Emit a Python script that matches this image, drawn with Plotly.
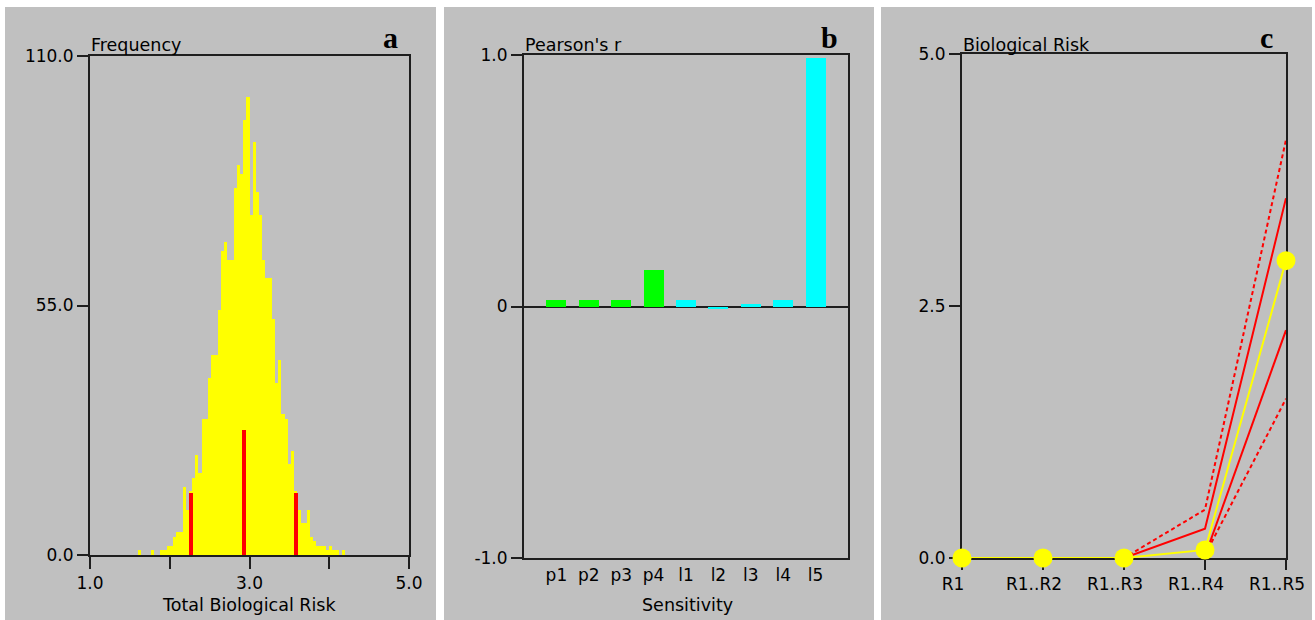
import plotly.graph_objects as go

# ---------------- data ----------------
# Panel a: histogram of Total Biological Risk
BIN_START = 1.6
BIN_WIDTH = 0.04
freq = [1, 0, 0, 0, 1, 0, 0, 1, 1, 2, 2, 4, 5, 5, 15, 10, 14, 17, 22, 18,
        30, 30, 39, 44, 44, 54, 67, 69, 65, 65, 81, 86, 84, 96, 101, 75, 91, 80, 75, 65,
        61, 61, 52, 38, 43, 31, 30, 20, 23, 14, 10, 7, 7, 10, 4, 3, 2, 2, 2, 1,
        2, 1, 1, 0, 1]
pct_x = [2.27, 2.93, 3.58]
pct_h = [13.7, 27.5, 13.7]

# Panel b: sensitivity (Pearson's r)
sens_names = ["p1", "p2", "p3", "p4", "l1", "l2", "l3", "l4", "l5"]
sens_values = [0.025, 0.025, 0.025, 0.145, 0.025, -0.01, 0.01, 0.025, 0.99]
sens_colors = ["#00FF00"] * 4 + ["#00FFFF"] * 5

# Panel c: cumulative biological risk
steps = ["R1", "R1..R2", "R1..R3", "R1..R4", "R1..R5"]
risk_mean = [0, 0, 0, 0.08, 2.95]
risk_hi_solid = [0, 0, 0, 0.29, 3.57]
risk_lo_solid = [None, None, None, 0.02, 2.26]
risk_hi_dash = [0, 0, 0, 0.48, 4.15]
risk_lo_dash = [None, None, None, 0.03, 1.58]

# ---------------- layout helpers ----------------
W, H = 1315, 620
def px(x):
    return x / W
def py(y):
    return 1 - y / H

GRAY = "#C0C0C0"
FRAME = "#1E1E1E"
FONT = "DejaVu Sans"
FS = 17

bin_centers = [round(BIN_START + (i + 0.5) * BIN_WIDTH, 4) for i in range(len(freq))]

fig = go.Figure()

# panel a
fig.add_trace(go.Bar(x=bin_centers, y=freq, width=BIN_WIDTH, marker=dict(color="#FFFF00", line=dict(width=0)),
                     xaxis="x", yaxis="y", showlegend=False))
fig.add_trace(go.Bar(x=pct_x, y=pct_h, width=0.045, marker=dict(color="#FF0000", line=dict(width=0)),
                     xaxis="x", yaxis="y", showlegend=False))
# panel b
fig.add_trace(go.Bar(x=list(range(len(sens_names))), y=sens_values, width=0.62,
                     marker=dict(color=sens_colors, line=dict(width=0)),
                     xaxis="x2", yaxis="y2", showlegend=False))
# panel c
for vals, dash in [(risk_hi_dash, "4px,3px"), (risk_lo_dash, "4px,3px"),
                   (risk_hi_solid, "solid"), (risk_lo_solid, "solid")]:
    fig.add_trace(go.Scatter(x=list(range(len(steps))), y=vals, mode="lines",
                             line=dict(color="#FF0000", width=2, dash=dash),
                             xaxis="x3", yaxis="y3", showlegend=False, cliponaxis=False))
fig.add_trace(go.Scatter(x=list(range(len(steps))), y=risk_mean, mode="lines+markers",
                         line=dict(color="#FFFF00", width=2),
                         marker=dict(color="#FFFF00", size=19, line=dict(width=0)),
                         xaxis="x3", yaxis="y3", showlegend=False, cliponaxis=False))

axis_common = dict(showline=True, mirror=True, linecolor=FRAME, linewidth=2, showgrid=False,
                   zeroline=False, tickfont=dict(family=FONT, size=FS, color="black"),
                   ticks="outside", tickcolor=FRAME, tickwidth=2, layer="below traces",
                   fixedrange=True, automargin=False)

fig.update_layout(
    template="none",
    width=W, height=H, margin=dict(l=0, r=0, t=0, b=0, pad=0), autosize=False,
    paper_bgcolor="white", plot_bgcolor=GRAY, barmode="overlay", bargap=0,
    xaxis=dict(axis_common, domain=[px(90), px(409)], range=[1, 5], anchor="y",
               tickvals=[1, 2, 3, 4, 5], ticktext=["1.0", "", "3.0", "", "5.0"], ticklen=12),
    yaxis=dict(axis_common, domain=[py(555), py(56)], range=[0, 110], anchor="x",
               tickvals=[0, 55, 110], ticktext=["0.0", "55.0", "110.0"], ticklen=11),
    xaxis2=dict(axis_common, domain=[px(524), px(848)], range=[-1, 9], anchor="y2",
                tickvals=list(range(len(sens_names))), ticktext=sens_names, ticks="", ticklabelstandoff=1),
    yaxis2=dict(axis_common, domain=[py(558), py(55)], range=[-1, 1], anchor="x2",
                tickvals=[-1, 0, 1], ticktext=["-1.0", "0", "1.0"], ticklen=11,
                zeroline=True, zerolinecolor=FRAME, zerolinewidth=2),
    xaxis3=dict(axis_common, domain=[px(962), px(1286)], range=[0, 4], anchor="y3",
                tickvals=list(range(len(steps))), ticktext=steps, ticklen=10, ticklabelshift=-9),
    yaxis3=dict(axis_common, domain=[py(558), py(54)], range=[0, 5], anchor="x3",
                tickvals=[0, 2.5, 5], ticktext=["0.0", "2.5", "5.0"], ticklen=11),
)

# panel backgrounds
for x0, x1 in [(5, 436), (444, 874), (881, 1312)]:
    fig.add_shape(type="rect", xref="paper", yref="paper", x0=px(x0), x1=px(x1), y0=0, y1=py(7),
                  fillcolor=GRAY, line=dict(width=0), layer="below")

txt = dict(family=FONT, size=FS + 0.5, color="black")
lab = dict(family="Liberation Serif", size=30, color="black")
annots = [
    dict(text="Frequency", x=px(89), y=py(45), xanchor="left", yanchor="middle", font=txt),
    dict(text="Pearson's r", x=px(523), y=py(45), xanchor="left", yanchor="middle", font=txt),
    dict(text="Biological Risk", x=px(961), y=py(45), xanchor="left", yanchor="middle", font=txt),
    dict(text="Total Biological Risk", x=px(249), y=py(605), xanchor="center", yanchor="middle", font=txt),
    dict(text="Sensitivity", x=px(687), y=py(605), xanchor="center", yanchor="middle", font=txt),
    dict(text="<b>a</b>", x=px(391), y=py(37), xanchor="center", yanchor="middle", font=lab),
    dict(text="<b>b</b>", x=px(830), y=py(37), xanchor="center", yanchor="middle", font=lab),
    dict(text="<b>c</b>", x=px(1266), y=py(37), xanchor="center", yanchor="middle", font=lab),
]
for a in annots:
    fig.add_annotation(xref="paper", yref="paper", showarrow=False, **a)

fig.write_html("out.html", config={"displayModeBar": False, "staticPlot": True},
               post_script="document.body.style.margin='0';document.body.style.overflow='hidden';")
